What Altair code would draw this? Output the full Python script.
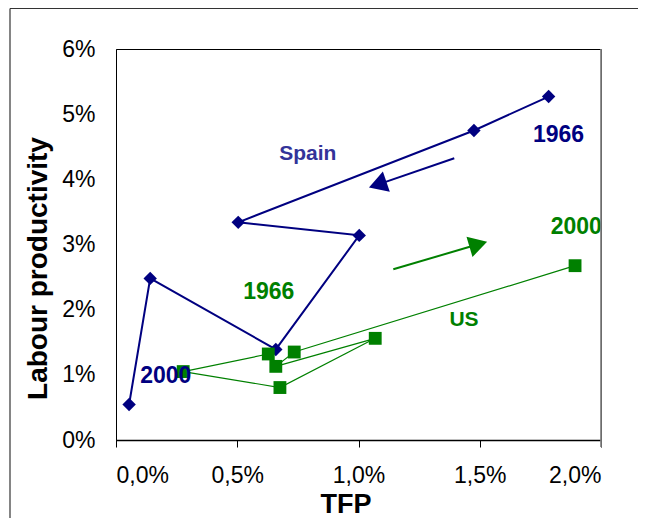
import altair as alt
import pandas as pd

# Spain path, 1966 -> 2000 (TFP growth, labour productivity growth)
spain_tfp = [0.01784, 0.01476, 0.00504, 0.01003, 0.00659, 0.00141, 0.00054]
spain_lp = [0.0527, 0.0475, 0.0334, 0.0314, 0.0139, 0.0248, 0.00545]

# US path, 1966 -> 2000
us_tfp = [0.00628, 0.00277, 0.00676, 0.01069, 0.00659, 0.00735, 0.01893]
us_lp = [0.0132, 0.0105, 0.00805, 0.0156, 0.0113, 0.0135, 0.02675]

# annotations
year_text = ["1966", "2000", "1966", "2000"]
year_series = ["Spain", "Spain", "US", "US"]
year_tfp = [0.01825, 0.00205, 0.00630, 0.01898]
year_lp = [0.04675, 0.00980, 0.02275, 0.03262]

name_text = ["Spain", "US"]
name_tfp = [0.00791, 0.01435]
name_lp = [0.0439, 0.01844]

# arrows: start point and head point
spain_arrow_tfp = [0.01395, 0.01079]
spain_arrow_lp = [0.04323, 0.03919]
us_arrow_tfp = [0.011435, 0.01494]
us_arrow_lp = [0.02619, 0.03004]

x_ticks = [0.0, 0.005, 0.01, 0.015, 0.02]
y_ticks = [0.0, 0.01, 0.02, 0.03, 0.04, 0.05, 0.06]

NAVY = "#000080"
GREEN = "#008000"
FONT = "Liberation Sans"

spain = pd.DataFrame({"tfp": spain_tfp, "lp": spain_lp, "idx": list(range(len(spain_tfp)))})
us = pd.DataFrame({"tfp": us_tfp, "lp": us_lp, "idx": list(range(len(us_tfp)))})
years = pd.DataFrame({"text": year_text, "series": year_series, "tfp": year_tfp, "lp": year_lp})
names = pd.DataFrame({"text": name_text, "series": ["Spain", "US"], "tfp": name_tfp, "lp": name_lp})
sp_arrow = pd.DataFrame({"tfp": [spain_arrow_tfp[0]], "lp": [spain_arrow_lp[0]],
                         "tfp2": [spain_arrow_tfp[1]], "lp2": [spain_arrow_lp[1]]})
us_arrow = pd.DataFrame({"tfp": [us_arrow_tfp[0]], "lp": [us_arrow_lp[0]],
                         "tfp2": [us_arrow_tfp[1]], "lp2": [us_arrow_lp[1]]})
one = pd.DataFrame({"a": [0]})

xscale = alt.Scale(domain=[0, 0.02], nice=False, zero=False)
yscale = alt.Scale(domain=[0, 0.06], nice=False, zero=False)

x_enc = alt.X("tfp:Q", scale=xscale, axis=alt.Axis(
    values=x_ticks, title="TFP",
    labelExpr="replace(format(datum.value, '.1%'), '.', ',')",
    labelFont=FONT, labelFontSize=23, labelColor="black", labelPadding=17,
    tickColor="black", tickSize=7, tickWidth=1,
    domainColor="black", domainWidth=1.5, grid=False,
    titleFont=FONT, titleFontSize=27, titleFontWeight="bold", titleColor="black",
    titleX=229.5, titleY=64, titleBaseline="middle", titleAlign="center"))
y_enc = alt.Y("lp:Q", scale=yscale, axis=alt.Axis(
    values=y_ticks, format=".0%", title="Labour productivity",
    labelFont=FONT, labelFontSize=23, labelColor="black", labelPadding=21,
    ticks=False, domainColor="black", domainWidth=1, grid=False,
    titleFont=FONT, titleFontSize=28, titleFontWeight="bold", titleColor="black",
    titleX=-78, titleY=219, titleBaseline="middle", titleAlign="center"))

xq = alt.X("tfp:Q", scale=xscale)
yq = alt.Y("lp:Q", scale=yscale)

# outer chart-area border (top and left edges; right/bottom lie outside the window)
outer_top = alt.Chart(one).mark_rule(color="#333333", strokeWidth=1.2).encode(
    x=alt.value(-106), x2=alt.value(522), y=alt.value(-40.5))
outer_left = alt.Chart(one).mark_rule(color="#333333", strokeWidth=1.2).encode(
    x=alt.value(-106), y=alt.value(-40.5), y2=alt.value(480))

spain_line = alt.Chart(spain).mark_line(color=NAVY, strokeWidth=2).encode(
    x=x_enc, y=y_enc, order="idx:Q")
spain_pts = alt.Chart(spain).mark_point(shape="diamond", filled=True, size=180, color=NAVY, opacity=1).encode(
    x=xq, y=yq)
us_line = alt.Chart(us).mark_line(color=GREEN, strokeWidth=1.2).encode(
    x=xq, y=yq, order="idx:Q")
us_pts = alt.Chart(us).mark_point(shape="square", filled=True, size=165, color=GREEN, opacity=1).encode(
    x=xq, y=yq)

sp_arrow_line = alt.Chart(sp_arrow).mark_rule(color=NAVY, strokeWidth=2).encode(
    x=xq, y=yq, x2="tfp2:Q", y2="lp2:Q")
sp_arrow_head = alt.Chart(sp_arrow).mark_point(shape="triangle-up", filled=True, size=450,
                                               color=NAVY, opacity=1, angle=251).encode(
    x=alt.X("tfp2:Q", scale=xscale), y=alt.Y("lp2:Q", scale=yscale))
us_arrow_line = alt.Chart(us_arrow).mark_rule(color=GREEN, strokeWidth=2).encode(
    x=xq, y=yq, x2="tfp2:Q", y2="lp2:Q")
us_arrow_head = alt.Chart(us_arrow).mark_point(shape="triangle-up", filled=True, size=450,
                                               color=GREEN, opacity=1, angle=73.5).encode(
    x=alt.X("tfp2:Q", scale=xscale), y=alt.Y("lp2:Q", scale=yscale))

year_labels = alt.Chart(years).mark_text(font=FONT, fontSize=23, fontWeight="bold",
                                         align="center", baseline="middle").encode(
    x=xq, y=yq, text="text:N",
    color=alt.Color("series:N", scale=alt.Scale(domain=["Spain", "US"], range=[NAVY, GREEN]), legend=None))
name_labels = alt.Chart(names).mark_text(font=FONT, fontSize=21, fontWeight="bold",
                                         align="center", baseline="middle").encode(
    x=xq, y=yq, text="text:N",
    fill=alt.Fill("series:N", scale=alt.Scale(domain=["Spain", "US"], range=["#333399", GREEN]), legend=None))

right_edge = alt.Chart(one).mark_rule(color="#808080", strokeWidth=1.7).encode(
    x=alt.value(485), y=alt.value(0), y2=alt.value(398))

chart = alt.layer(
    outer_top, outer_left, spain_line, us_line, sp_arrow_line, us_arrow_line,
    sp_arrow_head, us_arrow_head, spain_pts, us_pts,
    year_labels, name_labels, right_edge
).properties(
    width=485, height=391,
    autosize=alt.AutoSizeParams(type="none"),
    padding={"left": 108, "top": 41, "right": 38, "bottom": 78},
    background="white",
).configure_view(stroke="black", strokeWidth=1)

chart.save("out.html", embed_options={"renderer": "svg", "actions": False})
